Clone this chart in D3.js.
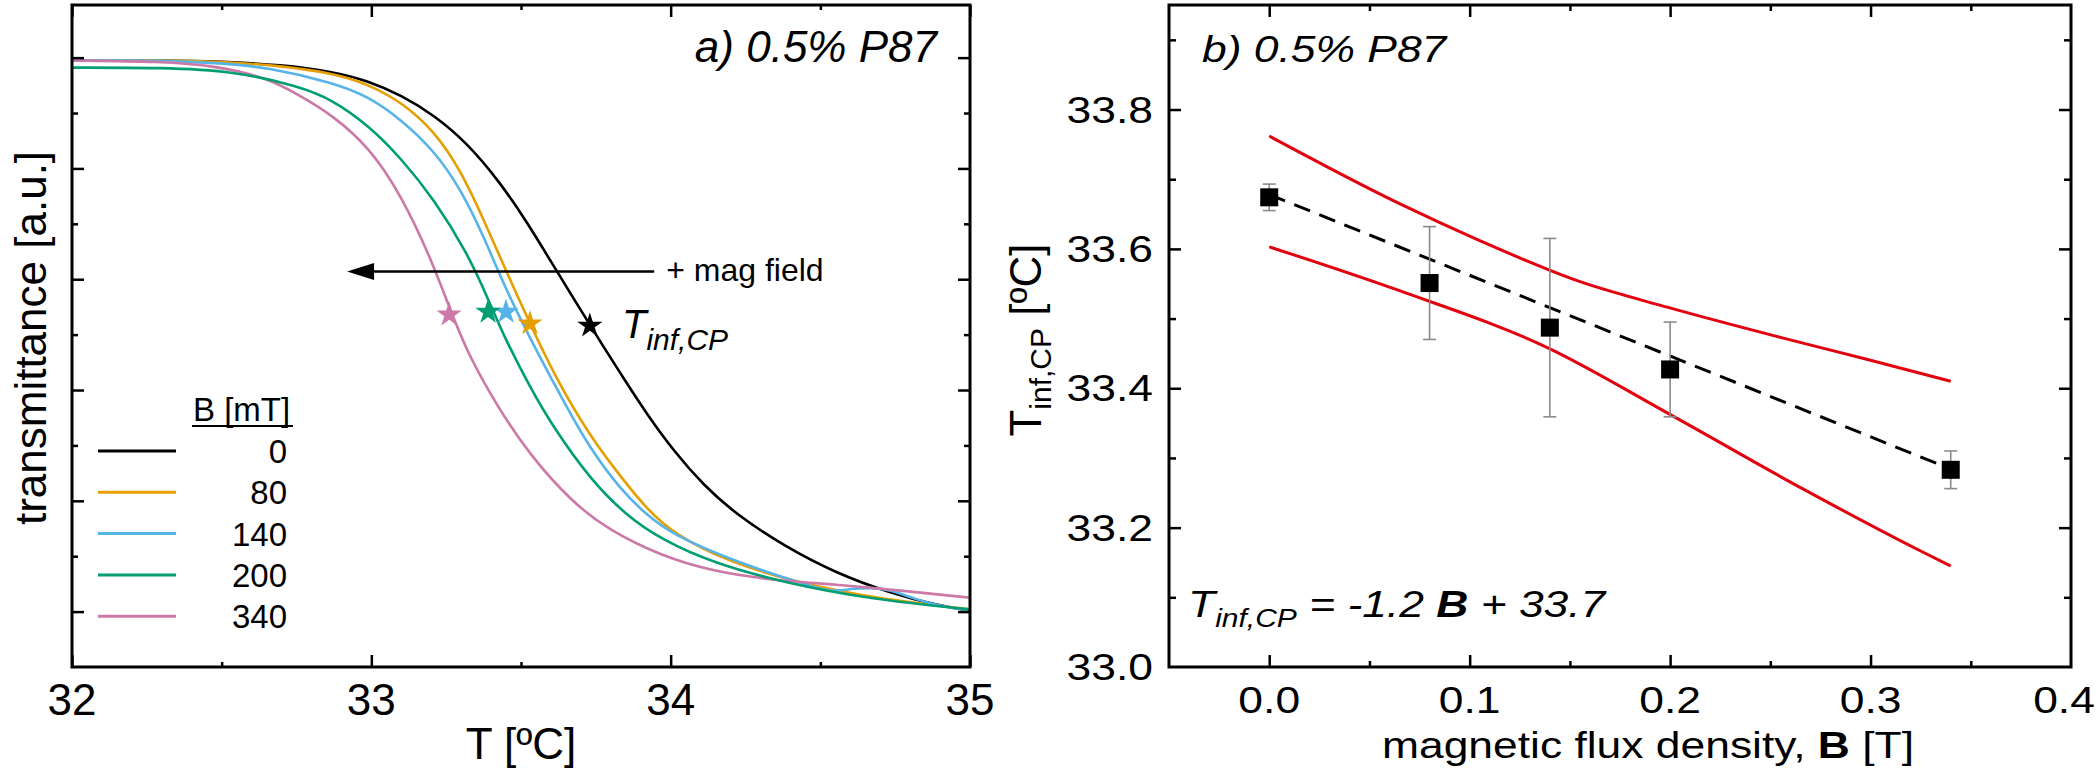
<!DOCTYPE html>
<html>
<head>
<meta charset="utf-8">
<script src="https://cdn.jsdelivr.net/npm/d3@7"></script>
<style>
    body { margin: 0; background: #fff; }
    text { font-family: 'Liberation Sans', Arial, Helvetica, sans-serif; fill: #000; }
</style>
</head>
<body>
<svg id="chart" width="2100" height="779"></svg>
<script>
// ---- panel a: transmittance curves, one per field strength ----
const fieldsMT = [0, 80, 140, 200, 340];
const curveColors = ['#000000', '#E69F00', '#56B4E9', '#009E73', '#CC79A7'];

const temp0 = [32.0, 32.3, 32.5, 32.7, 32.87, 32.99, 33.10, 33.21, 33.32, 33.43, 33.52, 33.60, 33.67, 33.73, 33.77, 33.85, 33.92, 34.01, 34.11, 34.22, 34.38, 34.55, 34.73, 34.90, 35.0];
const trans0 = [0.995, 0.995, 0.993, 0.987, 0.975, 0.958, 0.932, 0.896, 0.846, 0.775, 0.703, 0.632, 0.570, 0.518, 0.483, 0.415, 0.357, 0.290, 0.228, 0.175, 0.118, 0.070, 0.034, 0.010, 0.002];

const temp80 = [32.0, 32.3, 32.5, 32.7, 32.87, 32.99, 33.10, 33.21, 33.30, 33.375, 33.45, 33.53, 33.61, 33.73, 33.85, 33.92, 34.01, 34.20, 34.43, 34.67, 35.0];
const trans80 = [0.995, 0.995, 0.993, 0.985, 0.972, 0.952, 0.920, 0.868, 0.795, 0.708, 0.615, 0.520, 0.428, 0.316, 0.232, 0.186, 0.140, 0.088, 0.052, 0.025, 0.004];

const temp140 = [32.0, 32.3, 32.5, 32.65, 32.87, 32.99, 33.10, 33.21, 33.30, 33.38, 33.45, 33.56, 33.65, 33.73, 33.83, 33.92, 34.01, 34.20, 34.38, 34.49, 34.55, 34.61, 34.67, 34.73, 34.82, 34.90, 35.0];
const trans140 = [0.995, 0.995, 0.990, 0.983, 0.955, 0.930, 0.888, 0.832, 0.762, 0.672, 0.580, 0.462, 0.372, 0.295, 0.222, 0.174, 0.138, 0.094, 0.061, 0.042, 0.036, 0.042, 0.043, 0.040, 0.022, 0.010, 0.002];

const temp200 = [32.0, 32.3, 32.54, 32.76, 32.87, 32.99, 33.10, 33.21, 33.32, 33.39, 33.44, 33.53, 33.61, 33.73, 33.85, 33.97, 34.14, 34.38, 34.67, 35.0];
const trans200 = [0.982, 0.982, 0.976, 0.948, 0.924, 0.878, 0.818, 0.744, 0.648, 0.565, 0.500, 0.405, 0.331, 0.240, 0.174, 0.130, 0.088, 0.052, 0.022, 0.004];

const temp340 = [32.0, 32.3, 32.48, 32.65, 32.76, 32.87, 32.99, 33.10, 33.20, 33.26, 33.32, 33.42, 33.53, 33.67, 33.79, 33.97, 34.14, 34.32, 34.55, 34.79, 35.0];
const trans340 = [0.995, 0.993, 0.985, 0.964, 0.932, 0.896, 0.840, 0.752, 0.636, 0.550, 0.468, 0.371, 0.282, 0.198, 0.148, 0.100, 0.073, 0.058, 0.049, 0.037, 0.025];

// inflection points (stars), same order as fieldsMT
const starTemp = [33.73, 33.53, 33.45, 33.39, 33.26];
const starTrans = [0.516, 0.520, 0.541, 0.541, 0.536];

const tempTicks = [32, 33, 34, 35];

// ---- panel b: inflection temperature vs flux density ----
const fieldB = [0, 0.08, 0.14, 0.20, 0.34];
const tInf = [33.674, 33.551, 33.487, 33.427, 33.283];
const tInfErr = [0.019, 0.081, 0.128, 0.068, 0.027];

const fitB = [0, 0.34];
const fitT = [33.678, 33.284];
const upperB = [0, 0.065, 0.105, 0.154, 0.199, 0.255, 0.299, 0.34];
const upperT = [33.762, 33.665, 33.612, 33.554, 33.516, 33.473, 33.441, 33.410];
const lowerB = [0, 0.065, 0.139, 0.199, 0.266, 0.326, 0.34];
const lowerT = [33.603, 33.540, 33.458, 33.364, 33.256, 33.165, 33.145];

const bTicks = [0, 0.1, 0.2, 0.3, 0.4];
const tTicks = [33.0, 33.2, 33.4, 33.6, 33.8];

let svg = d3.select('#chart');
svg.append('rect').attr('width', 2100).attr('height', 779).attr('fill', '#fff');

function zip(xs, ys) {
    return xs.map(function (x, i) { return [x, ys[i]]; });
}

function ticks(g, axisFn, scale, values, size, pos, horizontal) {
    let a = g.append('g')
        .attr('transform', horizontal ? 'translate(0,' + pos + ')' : 'translate(' + pos + ',0)')
        .call(axisFn(scale).tickValues(values).tickSize(size).tickFormat(''));
    a.select('.domain').remove();
    a.selectAll('line').attr('stroke', '#000').attr('stroke-width', 2.5);
}

function frame(g, x, y, majX, minX, majY, minY, lenX, minLenX, lenY, minLenY) {
    let x0 = x.range()[0], x1 = x.range()[1], y0 = y.range()[0], y1 = y.range()[1];
    ticks(g, d3.axisBottom, x, majX, -lenX, y0, true);
    ticks(g, d3.axisBottom, x, minX, -minLenX, y0, true);
    ticks(g, d3.axisTop, x, majX, -lenX, y1, true);
    ticks(g, d3.axisTop, x, minX, -minLenX, y1, true);
    ticks(g, d3.axisLeft, y, majY, -lenY, x0, false);
    ticks(g, d3.axisLeft, y, minY, -minLenY, x0, false);
    ticks(g, d3.axisRight, y, majY, -lenY, x1, false);
    ticks(g, d3.axisRight, y, minY, -minLenY, x1, false);
    g.append('rect')
        .attr('x', x0).attr('y', y1)
        .attr('width', x1 - x0).attr('height', y0 - y1)
        .attr('fill', 'none').attr('stroke', '#000').attr('stroke-width', 3);
}

// ================= panel a =================
let ga = svg.append('g');
let xa = d3.scaleLinear().domain([32, 35]).range([72, 970]);
let ya = d3.scaleLinear().domain([-0.1, 1.095]).range([667, 5]);

let series = [
    zip(temp0, trans0), zip(temp80, trans80), zip(temp140, trans140),
    zip(temp200, trans200), zip(temp340, trans340)
];

let lineA = d3.line()
    .x(function (d) { return xa(d[0]); })
    .y(function (d) { return ya(d[1]); })
    .curve(d3.curveBasis);

let drawOrder = [0, 1, 2, 4, 3];
drawOrder.forEach(function (i) {
    ga.append('path')
        .attr('d', lineA(series[i]))
        .attr('fill', 'none')
        .attr('stroke', curveColors[i])
        .attr('stroke-width', 2.6);
});

frame(ga, xa, ya,
    [32, 33, 34, 35], [32.5, 33.5, 34.5],
    [0, 0.2, 0.4, 0.6, 0.8, 1.0], [0.1, 0.3, 0.5, 0.7, 0.9],
    12, 5, 12, 6);

ga.selectAll('.tick-label-a')
    .data(tempTicks)
    .enter().append('text')
    .attr('x', function (d) { return xa(d); })
    .attr('y', 715)
    .attr('text-anchor', 'middle')
    .attr('font-size', 44)
    .text(function (d) { return d; });

ga.append('text')
    .attr('x', 521).attr('y', 759)
    .attr('text-anchor', 'middle')
    .attr('font-size', 44)
    .text('T [ºC]');

ga.append('text')
    .attr('transform', 'translate(46,338) rotate(-90)')
    .attr('text-anchor', 'middle')
    .attr('font-size', 44)
    .text('transmittance [a.u.]');

ga.append('text')
    .attr('x', 937).attr('y', 62)
    .attr('text-anchor', 'end')
    .attr('font-size', 44)
    .attr('font-style', 'italic')
    .text('a) 0.5% P87');

// arrow "+ mag field"
let arrowY = ya(0.614);
let arrowX0 = xa(33.945), arrowX1 = xa(32.919);
ga.append('line')
    .attr('x1', arrowX0).attr('y1', arrowY)
    .attr('x2', arrowX1 + 20).attr('y2', arrowY)
    .attr('stroke', '#000').attr('stroke-width', 2.5);
ga.append('path')
    .attr('d', 'M' + arrowX1 + ',' + arrowY + 'l27,-8.5l0,17z')
    .attr('fill', '#000');
ga.append('text')
    .attr('x', arrowX0 + 12).attr('y', arrowY + 10)
    .attr('font-size', 32)
    .text('+ mag field');

// stars
let star = d3.symbol().type(d3.symbolStar).size(200);
ga.selectAll('.star')
    .data(starTemp)
    .enter().append('path')
    .attr('d', star)
    .attr('transform', function (d, i) { return 'translate(' + xa(d) + ',' + ya(starTrans[i]) + ')'; })
    .attr('fill', function (d, i) { return curveColors[i]; });

let tLab = ga.append('text')
    .attr('x', 622).attr('y', 338)
    .attr('font-size', 40)
    .attr('font-style', 'italic');
tLab.append('tspan').text('T');
tLab.append('tspan').attr('font-size', 30).attr('dy', 12).text('inf,CP');

// legend
let legend = ga.append('g');
legend.append('text')
    .attr('x', 193).attr('y', 421)
    .attr('font-size', 33)
    .text('B [mT]');
legend.append('line')
    .attr('x1', 192).attr('x2', 293)
    .attr('y1', 426).attr('y2', 426)
    .attr('stroke', '#000').attr('stroke-width', 2);
fieldsMT.forEach(function (f, i) {
    let base = 463 + i * 41.3;
    legend.append('line')
        .attr('x1', 98).attr('x2', 176)
        .attr('y1', base - 12).attr('y2', base - 12)
        .attr('stroke', curveColors[i]).attr('stroke-width', 3);
    legend.append('text')
        .attr('x', 287).attr('y', base)
        .attr('text-anchor', 'end')
        .attr('font-size', 33)
        .text(f);
});

// ================= panel b =================
let gb = svg.append('g');
let xb = d3.scaleLinear().domain([-0.05, 0.4]).range([1169, 2071]);
let yb = d3.scaleLinear().domain([33.0, 33.95]).range([667, 5]);
const STRETCH = 1.2;

function wideText(g, x, y, anchor, size) {
    return g.append('text')
        .attr('transform', 'translate(' + x + ',' + y + ') scale(' + STRETCH + ',1)')
        .attr('text-anchor', anchor)
        .attr('font-size', size);
}

let lineB = d3.line()
    .x(function (d) { return xb(d[0]); })
    .y(function (d) { return yb(d[1]); })
    .curve(d3.curveMonotoneX);

gb.append('path')
    .attr('d', lineB(zip(upperB, upperT)))
    .attr('fill', 'none').attr('stroke', '#e3000f').attr('stroke-width', 3);
gb.append('path')
    .attr('d', lineB(zip(lowerB, lowerT)))
    .attr('fill', 'none').attr('stroke', '#e3000f').attr('stroke-width', 3);
gb.append('path')
    .attr('d', lineB(zip(fitB, fitT)))
    .attr('fill', 'none').attr('stroke', '#000').attr('stroke-width', 3)
    .attr('stroke-dasharray', '17,10');

// error bars
let err = gb.selectAll('.err')
    .data(fieldB)
    .enter().append('g')
    .attr('stroke', '#8a8a8a').attr('stroke-width', 1.6);
err.append('line')
    .attr('x1', function (d) { return xb(d); }).attr('x2', function (d) { return xb(d); })
    .attr('y1', function (d, i) { return yb(tInf[i] + tInfErr[i]); })
    .attr('y2', function (d, i) { return yb(tInf[i] - tInfErr[i]); });
[1, -1].forEach(function (s) {
    err.append('line')
        .attr('x1', function (d) { return xb(d) - 6.5; }).attr('x2', function (d) { return xb(d) + 6.5; })
        .attr('y1', function (d, i) { return yb(tInf[i] + s * tInfErr[i]); })
        .attr('y2', function (d, i) { return yb(tInf[i] + s * tInfErr[i]); });
});

gb.selectAll('.pt')
    .data(fieldB)
    .enter().append('rect')
    .attr('x', function (d) { return xb(d) - 9; })
    .attr('y', function (d, i) { return yb(tInf[i]) - 9; })
    .attr('width', 18).attr('height', 18)
    .attr('fill', '#000');

frame(gb, xb, yb,
    [0, 0.1, 0.2, 0.3], [0.05, 0.15, 0.25, 0.35],
    [33.2, 33.4, 33.6, 33.8], [33.1, 33.3, 33.5, 33.7, 33.9],
    12, 6, 12, 7);

let fmt = d3.format('.1f');
bTicks.forEach(function (d) {
    // last label sits against the page edge, keep it inside
    wideText(gb, Math.min(xb(d), 2064), 713, 'middle', 37).text(fmt(d));
});
tTicks.forEach(function (d) {
    wideText(gb, 1153, yb(d) + 13, 'end', 37).text(fmt(d));
});

let xlab = wideText(gb, 1648, 758, 'middle', 37);
xlab.append('tspan').text('magnetic flux density, ');
xlab.append('tspan').attr('font-weight', 'bold').text('B');
xlab.append('tspan').text(' [T]');

let ylab = gb.append('text')
    .attr('transform', 'translate(1041,340) rotate(-90)')
    .attr('text-anchor', 'middle')
    .attr('font-size', 44);
ylab.append('tspan').text('T');
ylab.append('tspan').attr('font-size', 30).attr('dy', 10).text('inf,CP');
ylab.append('tspan').attr('dy', -10).text(' [ºC]');

wideText(gb, 1202, 62, 'start', 37)
    .attr('font-style', 'italic')
    .text('b) 0.5% P87');

let eq = wideText(gb, 1188, 617, 'start', 37).attr('font-style', 'italic');
eq.append('tspan').text('T');
eq.append('tspan').attr('font-size', 25).attr('dy', 10).text('inf,CP');
eq.append('tspan').attr('dy', -10).text(' = -1.2 ');
eq.append('tspan').attr('font-weight', 'bold').text('B');
eq.append('tspan').text(' + 33.7');
</script>
</body>
</html>
